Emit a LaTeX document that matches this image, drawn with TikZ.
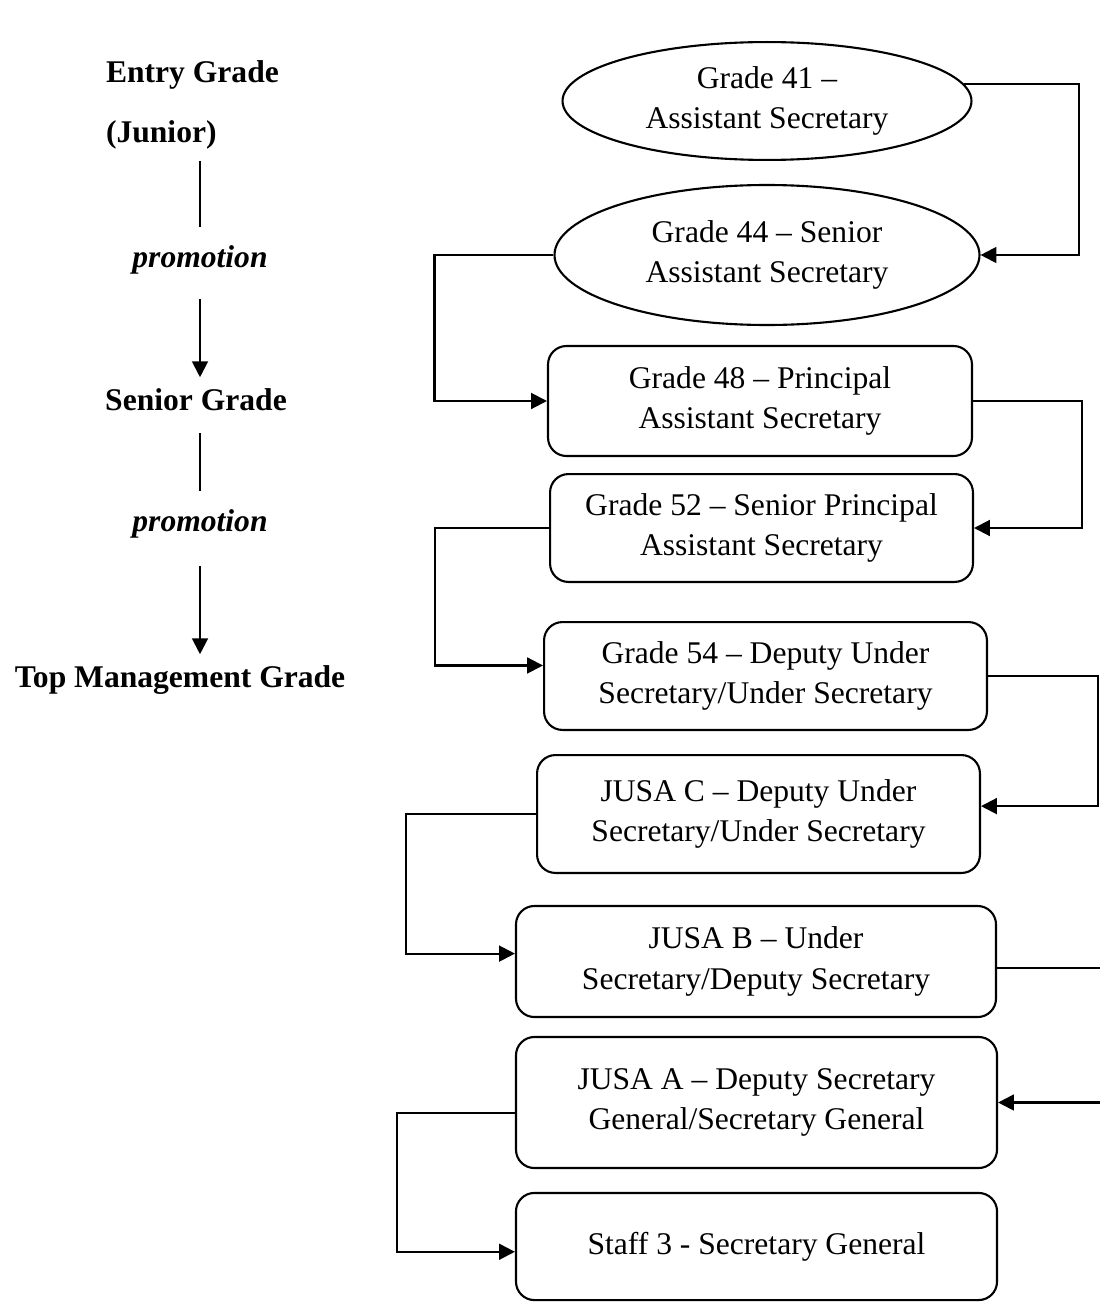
\documentclass[tikz,border=0pt]{standalone}
\usepackage{fontspec}
\setmainfont{Liberation Serif}
\usepackage{tikz}
\usetikzlibrary{shapes.geometric,arrows.meta}

\begin{document}
\begin{tikzpicture}[x=0.38pt, y=-0.38pt, line width=0.8pt, >={Triangle[length=6pt,width=6pt]},
    font=\fontsize{12pt}{15.5pt}\selectfont,
    grade/.style={font=\fontsize{12pt}{15.5pt}\selectfont\bfseries, inner sep=0pt, text height=9pt, text depth=3pt},
    promo/.style={font=\fontsize{12pt}{15.5pt}\selectfont\bfseries\itshape, inner sep=0pt, text height=9pt, text depth=3pt},
    oval/.style={draw, ellipse, inner sep=0pt, align=center},
    post/.style={draw, rectangle, rounded corners=7pt, inner sep=0pt, align=center}]
    \useasboundingbox (0,0) rectangle (1099,1314);
    \node[grade, anchor=west] (entry) at (105,75) {Entry Grade};
    \node[grade, anchor=west] (junior) at (105,135) {(Junior)};
    \node[promo] (promo1) at (200,260) {promotion};
    \node[grade] (senior) at (196,403) {Senior Grade};
    \node[promo] (promo2) at (200,524) {promotion};
    \node[grade] (top) at (180,680) {Top Management Grade};
    \draw[shorten <=3.4pt, shorten >=6pt] (promo1 |- junior.south) -- (promo1.north);
    \draw[->, shorten <=8.4pt, shorten >=3.4pt] (promo1.south) -- (promo1.south |- senior.north);
    \draw[shorten <=5pt, shorten >=6pt] (promo2 |- senior.south) -- (promo2.north);
    \draw[->, shorten <=9.5pt, shorten >=3.4pt] (promo2.south) -- (promo2.south |- top.north);

    \node[oval, minimum width=155.4pt, minimum height=44.8pt] (g41) at (767,101) {Grade 41 --\\Assistant Secretary};
    \node[oval, minimum width=161.5pt, minimum height=53.2pt] (g44) at (767,255) {Grade 44 -- Senior\\Assistant Secretary};
    \node[post, minimum width=161.1pt, minimum height=41.8pt] (g48) at (760,401) {Grade 48 -- Principal\\Assistant Secretary};
    \node[post, minimum width=160.7pt, minimum height=41pt] (g52) at (761.5,528) {Grade 52 -- Senior Principal\\Assistant Secretary};
    \node[post, minimum width=168.3pt, minimum height=41pt] (g54) at (765.5,676) {Grade 54 -- Deputy Under\\Secretary/Under Secretary};
    \node[post, minimum width=168.3pt, minimum height=44.8pt] (jusaC) at (758.5,814) {JUSA C -- Deputy Under\\Secretary/Under Secretary};
    \node[post, minimum width=182.4pt, minimum height=42.2pt] (jusaB) at (756,961.5) {JUSA B -- Under\\Secretary/Deputy Secretary};
    \node[post, minimum width=182.8pt, minimum height=49.8pt] (jusaA) at (756.5,1102.5) {JUSA A -- Deputy Secretary\\General/Secretary General};
    \node[post, minimum width=182.8pt, minimum height=40.7pt] (staff3) at (756.5,1246.5) {Staff 3 - Secretary General};

    \draw[->] (g41.5) -- ++(115,0) |- (g44.east);
    \draw[->] (g44.west) -- ++(-119,0) |- (g48.west);
    \draw[->] (g48.east) -- ++(109,0) |- (g52.east);
    \draw[->] (g52.west) -- ++(-114,0) |- ([yshift=4pt]g54.west);
    \draw[->] (g54.east) -- ++(110,0) |- ([yshift=3pt]jusaC.east);
    \draw[->] (jusaC.west) -- ++(-130,0) |- ([yshift=3pt]jusaB.west);
    \draw ([yshift=-2.5pt]jusaB.east) -- ++(103,0);
    \draw[<-] (jusaA.east) -- ++(102,0);
    \draw[->] ([yshift=-4pt]jusaA.west) -- ++(-118,0) |- ([yshift=-2pt]staff3.west);
\end{tikzpicture}
\end{document}
